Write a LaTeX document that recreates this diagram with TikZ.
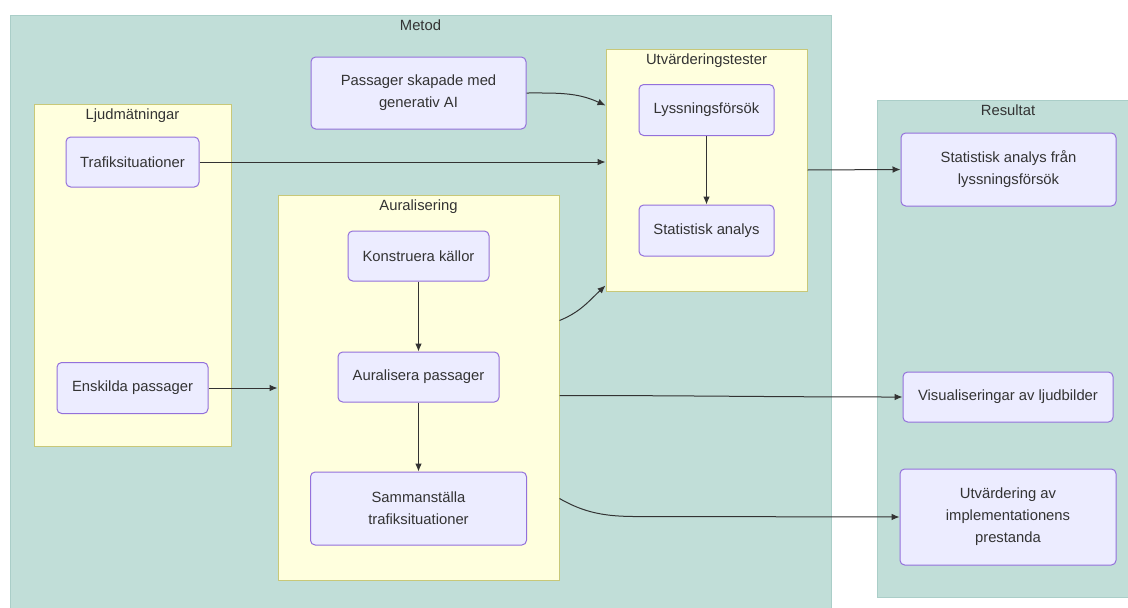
\documentclass[tikz,border=0pt]{standalone}
\usepackage{fontspec}
\setmainfont{Liberation Sans}
\usepackage{tikz}
\usetikzlibrary{arrows.meta, calc, fit}

\definecolor{tealfill}{RGB}{193,222,216}
\definecolor{tealline}{RGB}{170,206,200}
\definecolor{yelfill}{RGB}{255,255,222}
\definecolor{yelline}{RGB}{200,200,120}
\definecolor{nodefill}{RGB}{236,236,255}
\definecolor{nodeline}{RGB}{147,112,219}
\definecolor{textgray}{RGB}{51,51,51}

\begin{document}
\begin{tikzpicture}[x=0.75pt,y=-0.75pt,>={Latex[length=6pt,width=5pt]},
    main node/.style={rectangle,rounded corners=3.5pt,draw=nodeline,fill=nodefill,line width=0.75pt,
        text=textgray,align=center,inner sep=0pt,font=\fontsize{11.1}{16.5}\selectfont},
    outer box/.style={rectangle,draw=tealline,fill=tealfill,line width=0.75pt,inner sep=0pt},
    inner box/.style={rectangle,draw=yelline,fill=yelfill,line width=0.75pt,inner sep=0pt},
    box title/.style={anchor=north,inner sep=4pt,text=textgray,font=\fontsize{11.1}{14}\selectfont}]
    \clip (0,0) rectangle (1128,607);
    % clusters
    \node[outer box, fit={(10,15) (831,625)}, label={[box title]north:Metod}] (metod) {};
    \node[outer box, fit={(877,100) (1139,597)}, label={[box title]north:Resultat}] (res) {};
    \node[inner box, fit={(34,104) (231,446)}, label={[box title]north:Ljudmätningar}] (ljud) {};
    \node[inner box, fit={(278,195) (559,580)}, label={[box title]north:Auralisering}] (aur) {};
    \node[inner box, fit={(606,49) (807,291)}, label={[box title]north:Utvärderingstester}] (utv) {};
    % nodes
    \node[main node, minimum width=99.75pt, minimum height=37.5pt] (trafik) at (132.5,162) {Trafiksituationer};
    \node[main node, minimum width=113.25pt, minimum height=38.25pt] (enskilda) at (132.5,388) {Enskilda passager};
    \node[main node, minimum width=161.25pt, minimum height=54pt] (genai) at (418.5,93) {Passager skapade med\\generativ AI};
    \node[main node, minimum width=101.25pt, minimum height=38.25pt] (lyss) at (706.5,110) {Lyssningsförsök};
    \node[main node, minimum width=101.25pt, minimum height=38.25pt] (stat) at (706.5,230.5) {Statistisk analys};
    \node[main node, minimum width=105.75pt, minimum height=37.5pt] (konst) at (418.5,256) {Konstruera källor};
    \node[main node, minimum width=120.75pt, minimum height=37.5pt] (aural) at (418.5,377) {Auralisera passager};
    \node[main node, minimum width=162pt, minimum height=54.75pt] (samman) at (418.5,508.5) {Sammanställa\\trafiksituationer};
    \node[main node, minimum width=161.25pt, minimum height=54.75pt] (resstat) at (1008.5,169.5) {Statistisk analys från\\lyssningsförsök};
    \node[main node, minimum width=157.5pt, minimum height=37.5pt] (visual) at (1008,397) {Visualiseringar av ljudbilder};
    \node[main node, minimum width=162pt, minimum height=72pt] (prest) at (1008,517) {Utvärdering av\\implementationens\\prestanda};
    % connectors
    \begin{scope}[->,draw=textgray,line width=0.75pt]
        \draw (genai.east) to[out=0,in=155] ($(utv.north west)+(0,57)$);
        \draw (trafik.east) -- (utv.west |- trafik.east);
        \draw (enskilda.east) -- (aur.west |- enskilda.east);
        \draw ($(aur.north east)+(0,126)$) to[out=22,in=223] ($(utv.south west)+(0,-6)$);
        \draw (lyss) -- (stat);
        \draw (konst) -- (aural);
        \draw (aural) -- (samman);
        \draw (utv.east) -- (resstat.west);
        \draw ($(aur.north east)+(0,201)$) to[out=0,in=180] (visual.west);
        \draw ($(aur.north east)+(0,304)$) to[out=-30,in=180] ($(aur.north east)+(100,322)$) -- (prest.west);
    \end{scope}
\end{tikzpicture}
\end{document}
